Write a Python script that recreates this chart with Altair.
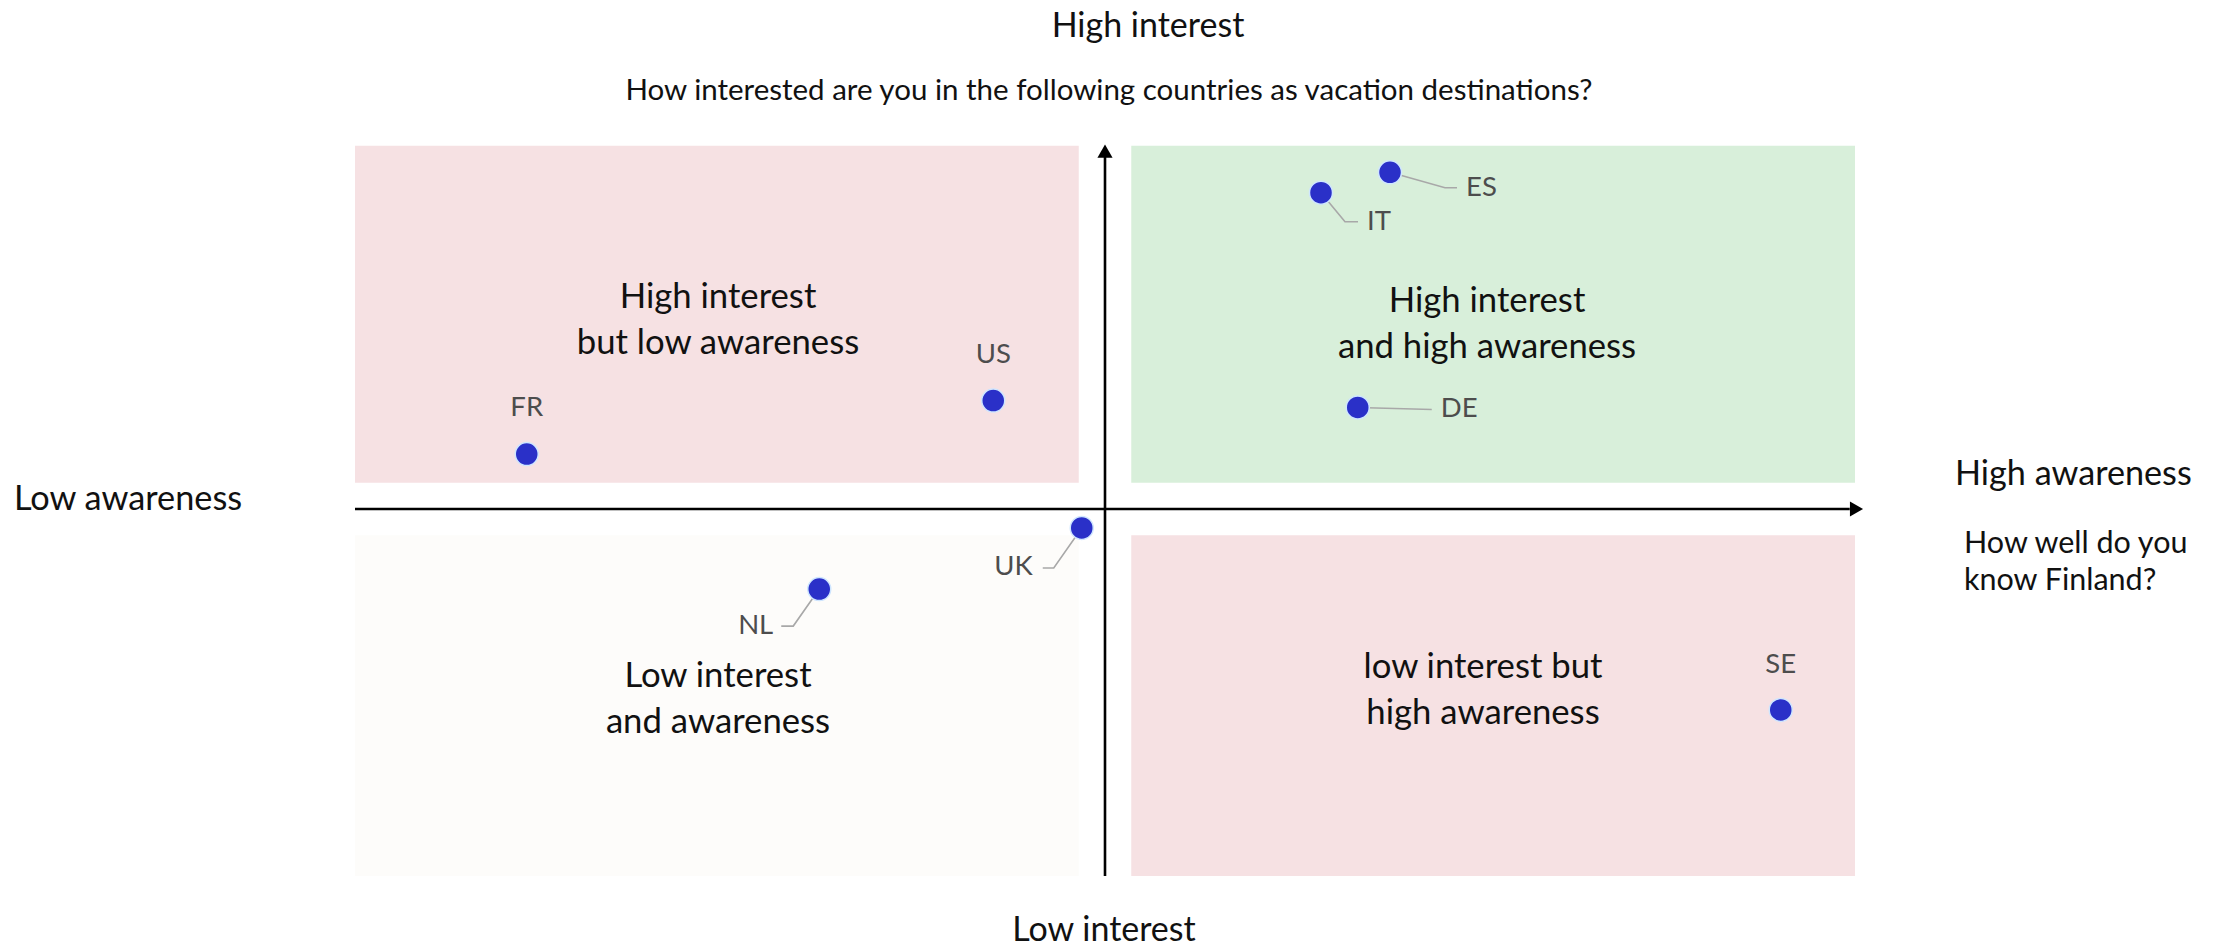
import altair as alt
import pandas as pd

# ---------------- data ----------------
countries = ["FR", "US", "IT", "ES", "DE", "UK", "NL", "SE"]
awareness = [-77.1, -14.9, 28.8, 38.0, 33.7, -3.1, -38.1, 90.1]   # "How well do you know Finland?"
interest = [15.1, 29.8, 86.9, 92.5, 27.9, -5.2, -22.0, -55.2]     # "How interested are you ... ?"

quadrant_names = ["High interest\nbut low awareness",
                  "High interest\nand high awareness",
                  "Low interest\nand awareness",
                  "low interest but\nhigh awareness"]
quadrant_x1 = [-100, 3.5, -100, 3.5]
quadrant_x2 = [-3.5, 100, -3.5, 100]
quadrant_y1 = [7.2, 7.2, -100.8, -100.8]
quadrant_y2 = [99.8, 99.8, -7.2, -7.2]
quadrant_colors = ["#F6E1E3", "#D8EFDA", "#FDFCFA", "#F6E1E3"]

# ---------------- layout ----------------
W, H = 2197, 934
PX_X, PX_Y = 7.5, 3.64          # pixels per data unit
OX, OY = 1097, 501              # plot-pixel position of (0, 0)
x_dom = [-OX / PX_X, (W - OX) / PX_X]
y_dom = [(OY - H) / PX_Y, OY / PX_Y]
xs = alt.Scale(domain=x_dom, nice=False, zero=False)
ys = alt.Scale(domain=y_dom, nice=False, zero=False)

FONT = "Lato"
LABEL_COLOR = "#4d4d4d"
TEXT_COLOR = "#111111"

# label offsets in pixels: (text dx, text dy, align, leader elbow, leader end)
label_layout = {
    "FR": (0, -46, "center", None, None),
    "US": (0, -46, "center", None, None),
    "SE": (0, -45, "center", None, None),
    "IT": (46, 29, "left", (24, 29), (37, 29)),
    "ES": (76, 15.5, "left", (55, 15.5), (67, 15.5)),
    "DE": (83, 2, "left", (74, 2), (74, 2)),
    "UK": (-49, 39, "right", (-28, 40), (-39, 40)),
    "NL": (-46, 37, "right", (-26, 37), (-38, 37)),
}

pts = pd.DataFrame({"country": countries, "awareness": awareness, "interest": interest})

lab_rows, lead_rows = [], []
for c, a, i in zip(countries, awareness, interest):
    dx, dy, al, elbow, end = label_layout[c]
    lab_rows.append({"country": c, "lx": a + dx / PX_X, "ly": i - dy / PX_Y, "align": al})
    if elbow is not None:
        for k, (ex, ey) in enumerate([(0, 0), elbow, end]):
            lead_rows.append({"country": c, "k": k, "x": a + ex / PX_X, "y": i - ey / PX_Y})
labels = pd.DataFrame(lab_rows)
leaders = pd.DataFrame(lead_rows)

quads = pd.DataFrame({"name": quadrant_names, "x1": quadrant_x1, "x2": quadrant_x2,
                      "y1": quadrant_y1, "y2": quadrant_y2, "color": quadrant_colors})
one = pd.DataFrame({"k": [0]})   # single row for annotation texts

rects = alt.Chart(quads).mark_rect().encode(
    x=alt.X("x1:Q", scale=xs, axis=None), x2="x2:Q",
    y=alt.Y("y1:Q", scale=ys, axis=None), y2="y2:Q",
    color=alt.Color("color:N", scale=None),
)

axes_df = pd.DataFrame({"x1": [-100, 0], "x2": [99.3, 0], "y1": [0, -100.8], "y2": [0, 97.5]})
axis_lines = alt.Chart(axes_df).mark_rule(color="black", strokeWidth=2.6).encode(
    x=alt.X("x1:Q", scale=xs), x2="x2:Q", y=alt.Y("y1:Q", scale=ys), y2="y2:Q")

arrow_df = pd.DataFrame({"x": [100.2, 0], "y": [0, 98.3], "shape": ["triangle-right", "triangle-up"]})
arrows = alt.Chart(arrow_df).mark_point(filled=True, color="black", size=230, opacity=1).encode(
    x=alt.X("x:Q", scale=xs), y=alt.Y("y:Q", scale=ys),
    shape=alt.Shape("shape:N", scale=None))

lead = alt.Chart(leaders).mark_line(color="#a8a8a8", strokeWidth=1.6).encode(
    x=alt.X("x:Q", scale=xs), y=alt.Y("y:Q", scale=ys), detail="country:N", order="k:Q")

dots = alt.Chart(pts).mark_circle(size=530, color="#2A30C8", opacity=1,
                                  stroke="#CFE6FF", strokeWidth=1.5).encode(
    x=alt.X("awareness:Q", scale=xs), y=alt.Y("interest:Q", scale=ys))

label_layers = []
for al in ["center", "left", "right"]:
    label_layers.append(
        alt.Chart(labels).transform_filter(alt.datum.align == al).mark_text(
            align=al, baseline="middle", font=FONT, fontWeight=400, fontSize=27.5,
            color=LABEL_COLOR
        ).encode(x=alt.X("lx:Q", scale=xs), y=alt.Y("ly:Q", scale=ys), text="country:N"))

# quadrant captions (first-line baseline positions, plot px)
quad_pos = [(710, 300), (1479, 304), (710, 679), (1475, 670)]
quad_text = []
for name, (qx, qy) in zip(quadrant_names, quad_pos):
    quad_text.append(alt.Chart(one).mark_text(
        text=name, lineBreak="\n", lineHeight=46, align="center", baseline="alphabetic",
        font=FONT, fontWeight=400, fontSize=34.7, color=TEXT_COLOR
    ).encode(x=alt.value(qx), y=alt.value(qy)))


def note(txt, x, y, size, align="center", lh=None):
    kw = dict(text=txt, align=align, baseline="alphabetic", font=FONT, fontWeight=400,
              fontSize=size, color=TEXT_COLOR)
    if lh:
        kw.update(lineBreak="\n", lineHeight=lh)
    return alt.Chart(one).mark_text(**kw).encode(x=alt.value(x), y=alt.value(y))


notes = [
    note("High interest", 1140, 29, 34),
    note("How interested are you in the following countries as vacation destinations?", 1101, 92, 29.5),
    note("Low awareness", 6, 502, 34.3, "left"),
    note("High awareness", 1947, 477, 34.2, "left"),
    note("How well do you\nknow Finland?", 1956, 545, 30.5, "left", 37),
    note("Low interest", 1096, 933, 34),
]

chart = alt.layer(rects, axis_lines, arrows, lead, dots, *label_layers, *quad_text, *notes).properties(
    width=W, height=H, padding=0, autosize=alt.AutoSizeParams(type="none")
).configure(background="white", view=alt.ViewConfig(stroke=None))

chart.save("out.html", embed_options={"renderer": "svg", "actions": False})
